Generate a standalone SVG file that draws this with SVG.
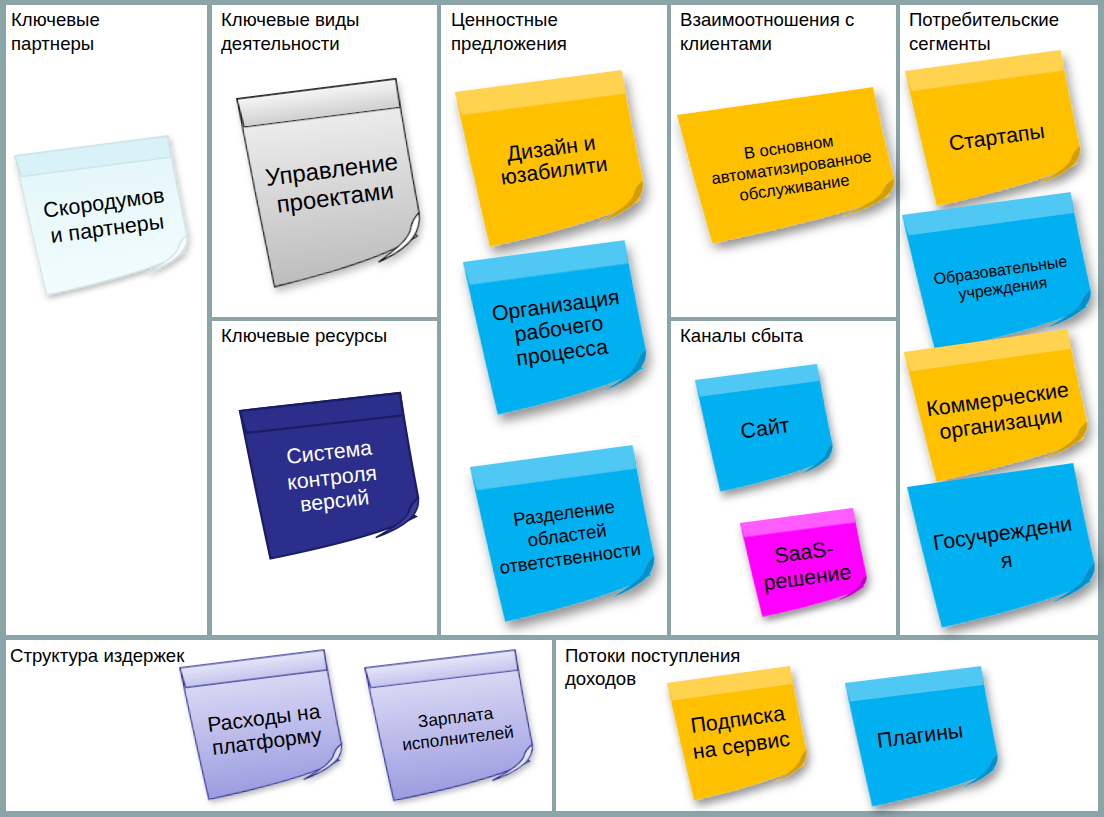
<svg xmlns="http://www.w3.org/2000/svg" xmlns:xlink="http://www.w3.org/1999/xlink" width="1104" height="817" viewBox="0 0 1104 817">
<style>
.bg{fill:#8AA4A7}
.cell{fill:#FFFFFF}
.ttl{font-family:"Liberation Sans",Arial,sans-serif;font-size:18.6px;fill:#000}
.nt{font-family:"Liberation Sans",Arial,sans-serif;text-anchor:middle;fill:#000}
.wt{fill:#FFFFFF}
.y{fill:#FFC000}.yb{fill:#FFD24F}.yc{fill:#D49E00}
.b{fill:#00B0F0}.bb{fill:#50C8F4}.bc{fill:#0090CA}
.m{fill:#FF00FF}.mb{fill:#FF5CFF}.mc{fill:#C000C0}
.cy{fill:url(#gCy);stroke:#C5DDE2;stroke-width:1}
.cyb{fill:#D8F2F7;stroke:#C5DDE2;stroke-width:1}
.cyc{fill:#FAFEFF;stroke:#C5DDE2;stroke-width:1}
.gr{fill:url(#gGr);stroke:#1A1A1A;stroke-width:1.3}
.grb{fill:url(#gGrB);stroke:#1A1A1A;stroke-width:1.3}
.grc{fill:#FFFFFF;stroke:#1A1A1A;stroke-width:1.3}
.nv{fill:#2B2E8A;stroke:#1B1D63;stroke-width:2.2}
.nvb{fill:#2B2E8A;stroke:#1B1D63;stroke-width:2.2}
.nvc{fill:#3A3D9A;stroke:#1B1D63;stroke-width:1.5}
.lv{fill:url(#gLv);stroke:#2E3192;stroke-width:1.2}
.lvb{fill:url(#gLvB);stroke:#2E3192;stroke-width:1.2}
.lvc{fill:#E4E4F8;stroke:#2E3192;stroke-width:1.2}
</style>
<defs>
<linearGradient id="gCy" x1="0" y1="0" x2="0" y2="1"><stop offset="0" stop-color="#E2F6FA"/><stop offset="1" stop-color="#F2FCFE"/></linearGradient>
<linearGradient id="gGr" x1="0" y1="0" x2="0" y2="1"><stop offset="0" stop-color="#F4F4F4"/><stop offset="1" stop-color="#BDBDBD"/></linearGradient>
<linearGradient id="gGrB" x1="0" y1="0" x2="0" y2="1"><stop offset="0" stop-color="#F6F6F6"/><stop offset="1" stop-color="#CFCFCF"/></linearGradient>
<linearGradient id="gLv" x1="0" y1="0" x2="0" y2="1"><stop offset="0" stop-color="#E2E2F8"/><stop offset="1" stop-color="#9C9CE0"/></linearGradient>
<linearGradient id="gLvB" x1="0" y1="0" x2="0" y2="1"><stop offset="0" stop-color="#E6E6F9"/><stop offset="1" stop-color="#C4C4EE"/></linearGradient>
<filter id="sh" x="-20%" y="-20%" width="150%" height="170%"><feDropShadow dx="1.5" dy="5" stdDeviation="3.5" flood-color="#000" flood-opacity="0.42"/></filter>
<filter id="sh2" x="-20%" y="-20%" width="150%" height="160%"><feDropShadow dx="1" dy="2.5" stdDeviation="2" flood-color="#000" flood-opacity="0.25"/></filter>
<path id="pb" vector-effect="non-scaling-stroke" d="M0,0 H100 C101,25 102.5,50 104,71 C101,73 98.5,75 97.5,79 C98,81 99.5,82 101,83 C80,92 40,97 8.6,100 C5.5,68 2.5,32 0,0 Z"/>
<path id="pband" vector-effect="non-scaling-stroke" d="M0,0 H100 L100.4,15 L2.3,15 Z"/>
<path id="pcurl" vector-effect="non-scaling-stroke" d="M104,71 C104,80 98,88 75,94 C88,88 95,84 97.5,79 C99,75 101,73 104,71 Z"/>
</defs>

<rect class="bg" x="0" y="0" width="1104" height="817"/>

<g id="cell-partners"><rect class="cell" x="6" y="5" width="201" height="630"/><text class="ttl" x="11" y="26">Ключевые</text><text class="ttl" x="11" y="50">партнеры</text></g>
<g id="cell-activities"><rect class="cell" x="212" y="5" width="225" height="312"/><text class="ttl" x="221" y="26">Ключевые виды</text><text class="ttl" x="221" y="50">деятельности</text></g>
<g id="cell-resources"><rect class="cell" x="212" y="321" width="225" height="314"/><text class="ttl" x="221" y="342">Ключевые ресурсы</text></g>
<g id="cell-value"><rect class="cell" x="441" y="5" width="226" height="630"/><text class="ttl" x="451" y="26">Ценностные</text><text class="ttl" x="451" y="50">предложения</text></g>
<g id="cell-relations"><rect class="cell" x="671" y="5" width="225" height="312"/><text class="ttl" x="680" y="26">Взаимоотношения с</text><text class="ttl" x="680" y="50">клиентами</text></g>
<g id="cell-channels"><rect class="cell" x="671" y="321" width="225" height="314"/><text class="ttl" x="680" y="342">Каналы сбыта</text></g>
<g id="cell-segments"><rect class="cell" x="900" y="5" width="198" height="630"/><text class="ttl" x="909" y="26">Потребительские</text><text class="ttl" x="909" y="50">сегменты</text></g>
<g id="cell-costs"><rect class="cell" x="6" y="640" width="546" height="171"/><text class="ttl" x="10" y="662">Структура издержек</text></g>
<g id="cell-revenue"><rect class="cell" x="556" y="640" width="542" height="171"/><text class="ttl" x="565" y="662">Потоки поступления</text><text class="ttl" x="565" y="685">доходов</text></g>

<g id="note-partners" transform="translate(15,156) rotate(-7.45)">
<g transform="scale(1.54,1.42)" filter="url(#sh2)"><use href="#pb" class="cy"/><use href="#pband" class="cyb"/><use href="#pcurl" class="cyc"/></g>
<text class="nt" font-size="21.5" x="82" y="65">Скородумов</text><text class="nt" font-size="21.5" x="82" y="91">и партнеры</text>
</g>

<g id="note-activities" transform="translate(237,99) rotate(-7.2)">
<g transform="scale(1.60,1.91)" filter="url(#sh2)"><use href="#pb" class="gr"/><use href="#pband" class="grb"/><use href="#pcurl" class="grc"/></g>
<text class="nt" font-size="24" x="85" y="90">Управление</text><text class="nt" font-size="24" x="85" y="118">проектами</text>
</g>

<g id="note-resources" transform="translate(240,411) rotate(-6.4)">
<g transform="scale(1.61,1.50)"><use href="#pb" class="nv"/><use href="#pband" class="nvb"/><use href="#pcurl" class="nvc"/></g>
<text class="nt wt" font-size="21.3" x="84" y="58">Система</text><text class="nt wt" font-size="21.3" x="84" y="83.5">контроля</text><text class="nt wt" font-size="21.3" x="84" y="107">версий</text>
</g>

<g id="note-design" transform="translate(455,92) rotate(-7.5)">
<g transform="scale(1.68,1.58)" filter="url(#sh)"><use href="#pb" class="y"/><use href="#pband" class="yb"/><use href="#pcurl" class="yc"/></g>
<text class="nt" font-size="21.3" x="88" y="75.5">Дизайн и</text><text class="nt" font-size="21.3" x="88" y="98">юзабилити</text>
</g>

<g id="note-workflow" transform="translate(463,262) rotate(-7.7)">
<g transform="scale(1.63,1.56)" filter="url(#sh)"><use href="#pb" class="b"/><use href="#pband" class="bb"/><use href="#pcurl" class="bc"/></g>
<text class="nt" font-size="21.3" x="86" y="62.5">Организация</text><text class="nt" font-size="21.3" x="86" y="86">рабочего</text><text class="nt" font-size="21.3" x="86" y="110">процесса</text>
</g>

<g id="note-responsibility" transform="translate(470,467) rotate(-7.7)">
<g transform="scale(1.64,1.58)" filter="url(#sh)"><use href="#pb" class="b"/><use href="#pband" class="bb"/><use href="#pcurl" class="bc"/></g>
<text class="nt" font-size="18.5" x="87" y="64.5">Разделение</text><text class="nt" font-size="18.5" x="87" y="87">областей</text><text class="nt" font-size="18.5" x="87" y="110">ответственности</text>
</g>

<g id="note-relations" transform="translate(677,115) rotate(-8.1)">
<g transform="scale(1.98,1.32)" filter="url(#sh)"><use href="#pb" class="y"/><use href="#pcurl" class="yc"/></g>
<text class="nt" font-size="16.6" x="106" y="53">В основном</text><text class="nt" font-size="16.6" x="106" y="73.5">автоматизированное</text><text class="nt" font-size="16.6" x="106" y="94">обслуживание</text>
</g>

<g id="note-site" transform="translate(695,380) rotate(-7.5)">
<g transform="scale(1.23,1.14)" filter="url(#sh)"><use href="#pb" class="b"/><use href="#pband" class="bb"/><use href="#pcurl" class="bc"/></g>
<text class="nt" font-size="21.3" x="63" y="64">Сайт</text>
</g>

<g id="note-saas" transform="translate(740,523) rotate(-7.6)">
<g transform="scale(1.14,0.96)" filter="url(#sh)"><use href="#pb" class="m"/><use href="#pband" class="mb"/><use href="#pcurl" class="mc"/></g>
<text class="nt" font-size="21.3" x="59.5" y="44.5">SaaS-</text><text class="nt" font-size="21.3" x="59.5" y="70">решение</text>
</g>

<g id="note-startups" transform="translate(905,71) rotate(-7.7)">
<g transform="scale(1.57,1.38)" filter="url(#sh)"><use href="#pb" class="y"/><use href="#pband" class="yb"/><use href="#pcurl" class="yc"/></g>
<text class="nt" font-size="21.3" x="82" y="85">Стартапы</text>
</g>

<g id="note-education" transform="translate(902,215) rotate(-7.75)">
<g transform="scale(1.70,1.40)" filter="url(#sh)"><use href="#pb" class="b"/><use href="#pband" class="bb"/><use href="#pcurl" class="bc"/></g>
<text class="nt" font-size="16" x="90" y="73.3">Образовательные</text><text class="nt" font-size="16" x="90" y="91.6">учреждения</text>
</g>

<g id="note-commercial" transform="translate(904,352) rotate(-8)">
<g transform="scale(1.65,1.33)" filter="url(#sh)"><use href="#pb" class="y"/><use href="#pband" class="yb"/><use href="#pcurl" class="yc"/></g>
<text class="nt" font-size="21.3" x="86" y="67">Коммерческие</text><text class="nt" font-size="21.3" x="86" y="91.5">организации</text>
</g>

<g id="note-government" transform="translate(907,487) rotate(-8.2)">
<g transform="scale(1.68,1.44)" filter="url(#sh)"><use href="#pb" class="b"/><use href="#pcurl" class="bc"/></g>
<text class="nt" font-size="21.3" x="88" y="66.5">Госучреждени</text><text class="nt" font-size="21.3" x="88" y="94">я</text>
</g>

<g id="note-platform" transform="translate(180,668) rotate(-7.1)">
<g transform="scale(1.45,1.34)" filter="url(#sh2)"><use href="#pb" class="lv"/><use href="#pband" class="lvb"/><use href="#pcurl" class="lvc"/></g>
<text class="nt" font-size="21" x="77" y="67">Расходы на</text><text class="nt" font-size="21" x="77" y="90.5">платформу</text>
</g>

<g id="note-salary" transform="translate(365,668) rotate(-6.8)">
<g transform="scale(1.51,1.35)" filter="url(#sh2)"><use href="#pb" class="lv"/><use href="#pband" class="lvb"/><use href="#pcurl" class="lvc"/></g>
<text class="nt" font-size="17.3" x="84" y="65.5">Зарплата</text><text class="nt" font-size="17.3" x="84" y="86.5">исполнителей</text>
</g>

<g id="note-subscription" transform="translate(667,683) rotate(-7.9)">
<g transform="scale(1.24,1.20)" filter="url(#sh)"><use href="#pb" class="y"/><use href="#pband" class="yb"/><use href="#pcurl" class="yc"/></g>
<text class="nt" font-size="21.3" x="65" y="53">Подписка</text><text class="nt" font-size="21.3" x="65" y="79">на сервис</text>
</g>

<g id="note-plugins" transform="translate(845,683) rotate(-7.1)">
<g transform="scale(1.37,1.26)" filter="url(#sh)"><use href="#pb" class="b"/><use href="#pband" class="bb"/><use href="#pcurl" class="bc"/></g>
<text class="nt" font-size="21.3" x="68" y="68.5">Плагины</text>
</g>

<g id="connectors"/>
</svg>
